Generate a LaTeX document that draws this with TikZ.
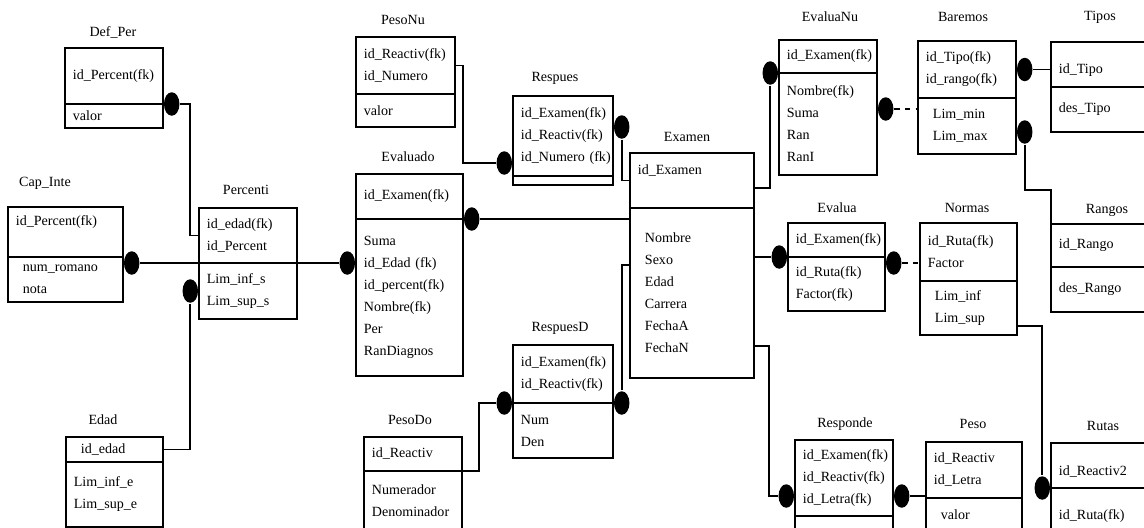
\documentclass[tikz,border=0pt]{standalone}
\usepackage{fontspec}
\setmainfont{Liberation Serif}
\usetikzlibrary{positioning,calc,shapes.geometric}

\begin{document}
\begin{tikzpicture}[x=0.02cm,y=-0.02cm,line width=1.1pt,font=\fontsize{8}{12.5}\selectfont,
	tbl/.style 2 args={draw,anchor=north west,align=left,outer sep=0pt,inner xsep=4.5pt,inner ysep=0pt,text width=#1*0.02cm-9pt,minimum height=#2*0.02cm},
	tbli/.style 2 args={tbl={#1}{#2},inner xsep=8.5pt,text width=#1*0.02cm-17pt},
	fkdot/.style={ellipse,fill=black,inner sep=0pt,minimum width=0.31cm,minimum height=0.47cm}]
	\path[use as bounding box,clip] (0,0) rectangle (1144,528);
	
	%% Def_Per
	\node (DefPer) at (113,32) {Def\_Per};
	\node (DefPerK) [tbl={98}{56}] at (65,48) {id\_Percent(fk)};
	\node (DefPerA) [below=0pt of DefPerK.south west,tbl={98}{24}] {valor};
	
	%% Cap_Inte
	\node (CapInte) at (45,183) {Cap\_Inte};
	\node (CapInteK) [tbl={115}{50}] at (8,207) {id\_Percent(fk)\\~};
	\node (CapInteA) [below=0pt of CapInteK.south west,tbli={115}{45}] {num\_romano\\nota};
	
	%% Percenti
	\node (Percenti) at (246,190) {Percenti};
	\node (PercentiK) [tbl={98}{55}] at (199,208) {id\_edad(fk)\\id\_Percent};
	\node (PercentiA) [below=0pt of PercentiK.south west,tbl={98}{56}] {Lim\_inf\_s\\Lim\_sup\_s};
	
	%% Edad
	\node (Edad) at (103,420) {Edad};
	\node (EdadK) [tbli={97}{25}] at (66,437) {id\_edad};
	\node (EdadA) [below=0pt of EdadK.south west,tbl={97}{65}] {Lim\_inf\_e\\Lim\_sup\_e};
	
	%% PesoNu
	\node (PesoNu) at (403,20) {PesoNu};
	\node (PesoNuK) [tbl={99}{57}] at (356,37) {id\_Reactiv(fk)\\id\_Numero};
	\node (PesoNuA) [below=0pt of PesoNuK.south west,tbl={99}{33}] {valor};
	
	%% Evaluado
	\node (Evaluado) at (408,157) {Evaluado};
	\node (EvaluadoK) [tbl={107}{45}] at (356,174) {id\_Examen(fk)};
	\node (EvaluadoA) [below=0pt of EvaluadoK.south west,tbl={107}{157}] 
	{Suma\\id\_Edad~(fk)\\id\_percent(fk)\\Nombre(fk)\\Per\\RanDiagnos};
	
	%% Respues
	\node (Respues) at (555,78) {Respues};
	\node (RespuesK) [tbl={100}{80}] at (513,96) 
	{id\_Examen(fk)\\id\_Reactiv(fk)\\id\_Numero~(fk)};
	\node (RespuesA) [below=0pt of RespuesK.south west,tbl={100}{9}] {};
	
	%% Examen
	\node (Examen) at (687,137) {Examen};
	\node (ExamenK) [tbl={124}{55}] at (630,153) {id\_Examen\\~};
	\node (ExamenA) [below=0pt of ExamenK.south west,tbli={124}{170}] 
	{Nombre\\Sexo\\Edad\\Carrera\\FechaA\\FechaN};
	
	%% RespuesD
	\node (RespuesD) at (560,328) {RespuesD};
	\node (RespuesDK) [tbl={100}{58}] at (513,345) {id\_Examen(fk)\\id\_Reactiv(fk)};
	\node (RespuesDA) [below=0pt of RespuesDK.south west,tbl={100}{55}] {Num\\Den};
	
	%% PesoDo
	\node (PesoDo) at (410,420) {PesoDo};
	\node (PesoDoK) [tbl={98}{34}] at (364,437) {id\_Reactiv};
	\node (PesoDoA) [below=0pt of PesoDoK.south west,tbl={98}{59}] {Numerador\\Denominador};
	
	%% EvaluaNu
	\node (EvaluaNu) at (830,17) {EvaluaNu};
	\node (EvaluaNuK) [tbl={98}{33}] at (779,40) {id\_Examen(fk)};
	\node (EvaluaNuA) [below=0pt of EvaluaNuK.south west,tbl={98}{102}] {Nombre(fk)\\Suma\\Ran\\RanI};
	
	%% Baremos
	\node (Baremos) at (963,17) {Baremos};
	\node (BaremosK) [tbl={98}{57}] at (918,41) {id\_Tipo(fk)\\id\_rango(fk)};
	\node (BaremosA) [below=0pt of BaremosK.south west,tbli={98}{56}] {Lim\_min\\Lim\_max};
	
	%% Tipos
	\node (Tipos) at (1100,17) {Tipos};
	\node (TiposK) [tbl={110}{45}] at (1051,42) {~\\id\_Tipo};
	\node (TiposA) [below=0pt of TiposK.south west,tbl={110}{45}] {des\_Tipo};
	
	%% Evalua
	\node (Evalua) at (837,208) {Evalua};
	\node (EvaluaK) [tbl={97}{34}] at (788,223) {id\_Examen(fk)};
	\node (EvaluaA) [below=0pt of EvaluaK.south west,tbl={97}{54}] {id\_Ruta(fk)\\Factor(fk)};
	
	%% Normas
	\node (Normas) at (967,208) {Normas};
	\node (NormasK) [tbl={97}{58}] at (920,223) {id\_Ruta(fk)\\Factor};
	\node (NormasA) [below=0pt of NormasK.south west,tbli={97}{54}] {Lim\_inf\\Lim\_sup};
	
	%% Rangos
	\node (Rangos) at (1107,210) {Rangos};
	\node (RangosK) [tbl={110}{43}] at (1051,224) {id\_Rango};
	\node (RangosA) [below=0pt of RangosK.south west,tbl={110}{45}] {des\_Rango};
	
	%% Responde
	\node (Responde) at (845,424) {Responde};
	\node (RespondeK) [tbl={98}{76}] at (795,440) {id\_Examen(fk)\\id\_Reactiv(fk)\\id\_Letra(fk)};
	\node (RespondeA) [below=0pt of RespondeK.south west,tbl={98}{30}] {};
	
	%% Peso
	\node (Peso) at (973,424) {Peso};
	\node (PesoK) [tbl={96}{56}] at (926,442) {id\_Reactiv\\id\_Letra};
	\node (PesoA) [below=0pt of PesoK.south west,tbli={96}{34}] {valor};
	
	%% Rutas
	\node (Rutas) at (1103,426) {Rutas};
	\node (RutasK) [tbl={110}{45}] at (1051,443) {~\\id\_Reactiv2};
	\node (RutasA) [below=0pt of RutasK.south west,tbl={110}{57}] {id\_Ruta(fk)};
	
	%% relations, left part
	\node (dot1) [fkdot,anchor=west] at (DefPerK.south east) {};
	\draw (dot1) -| ($(PercentiK.west)+(-9,0)$) -- (PercentiK.west);
	
	\node (dot2) [fkdot,anchor=west] at (CapInteK.south east |- PercentiA.north) {};
	\draw (dot2) -- (dot2 -| PercentiA.west);
	\node (dot3) [fkdot,anchor=east] at (EvaluadoA.west |- PercentiA.north) {};
	\draw (PercentiA.north east) -- (dot3);
	
	\node (dot4) [fkdot,anchor=east] at (PercentiA.west) {};
	\draw (EdadK.east) -| (dot4.south);
	
	%% relations round Examen
	\node (dot5) [fkdot,anchor=east] at ($(RespuesK.south west)+(0,-13)$) {};
	\draw (PesoNuK.east) -- ++(8,0) |- (dot5);
	
	\node (dot6) [fkdot,anchor=west] at ($(RespuesK.east)+(0,-9)$) {};
	\draw (dot6) |- (ExamenK.west);
	
	\node (dot7) [fkdot,anchor=west] at (EvaluadoK.south east) {};
	\draw (dot7) -- (dot7 -| ExamenA.west);
	
	\node (dot8) [fkdot,anchor=east] at (RespuesDK.south west) {};
	\draw (PesoDoK.south east) -- ++(17,0) |- (dot8);
	
	\node (dot9) [fkdot,anchor=west] at (RespuesDK.south east) {};
	\draw (dot9) |- ($(ExamenA.north west)+(0,57)$);
	
	\node (dot10) [fkdot,anchor=east] at (EvaluaNuK.south west) {};
	\draw ($(ExamenK.north east)+(0,35)$) -| (dot10);
	
	\node (dot11) [fkdot,anchor=east] at (EvaluaK.south west) {};
	\draw (dot11) -- (dot11 -| ExamenA.east);
	
	\node (dot12) [fkdot,anchor=east] at ($(RespondeK.south west)+(0,-20)$) {};
	\draw ($(ExamenA.south east)+(0,-32)$) -- ++(15,0) |- (dot12);
	
	%% relations, right part
	\node (dot13) [fkdot,anchor=west] at ($(RespondeK.south east)+(0,-20)$) {};
	\draw (dot13) -- (dot13 -| PesoK.west);
	
	\node (dot14) [fkdot,anchor=west] at ($(EvaluaNuA.north east)+(0,36)$) {};
	\draw[dashed] (dot14) -- (dot14 -| BaremosA.west);
	
	\node (dot15) [fkdot,anchor=west] at (BaremosK.east) {};
	\draw (dot15) -- (dot15 -| TiposK.west);
	
	\node (dot16) [fkdot,anchor=west] at ($(BaremosA.north east)+(0,34)$) {};
	\draw (dot16) |- ($(RangosK.north west)+(0,-34)$) -- (RangosK.north west);
	
	\node (dot17) [fkdot,anchor=west] at ($(EvaluaA.north east)+(0,6)$) {};
	\draw[dashed] (dot17) -- (dot17 -| NormasK.west);
	
	\node (dot18) [fkdot,anchor=east] at (RutasK.south west) {};
	\draw ($(NormasA.south east)+(0,-9)$) -| (dot18);
\end{tikzpicture}
\end{document}
